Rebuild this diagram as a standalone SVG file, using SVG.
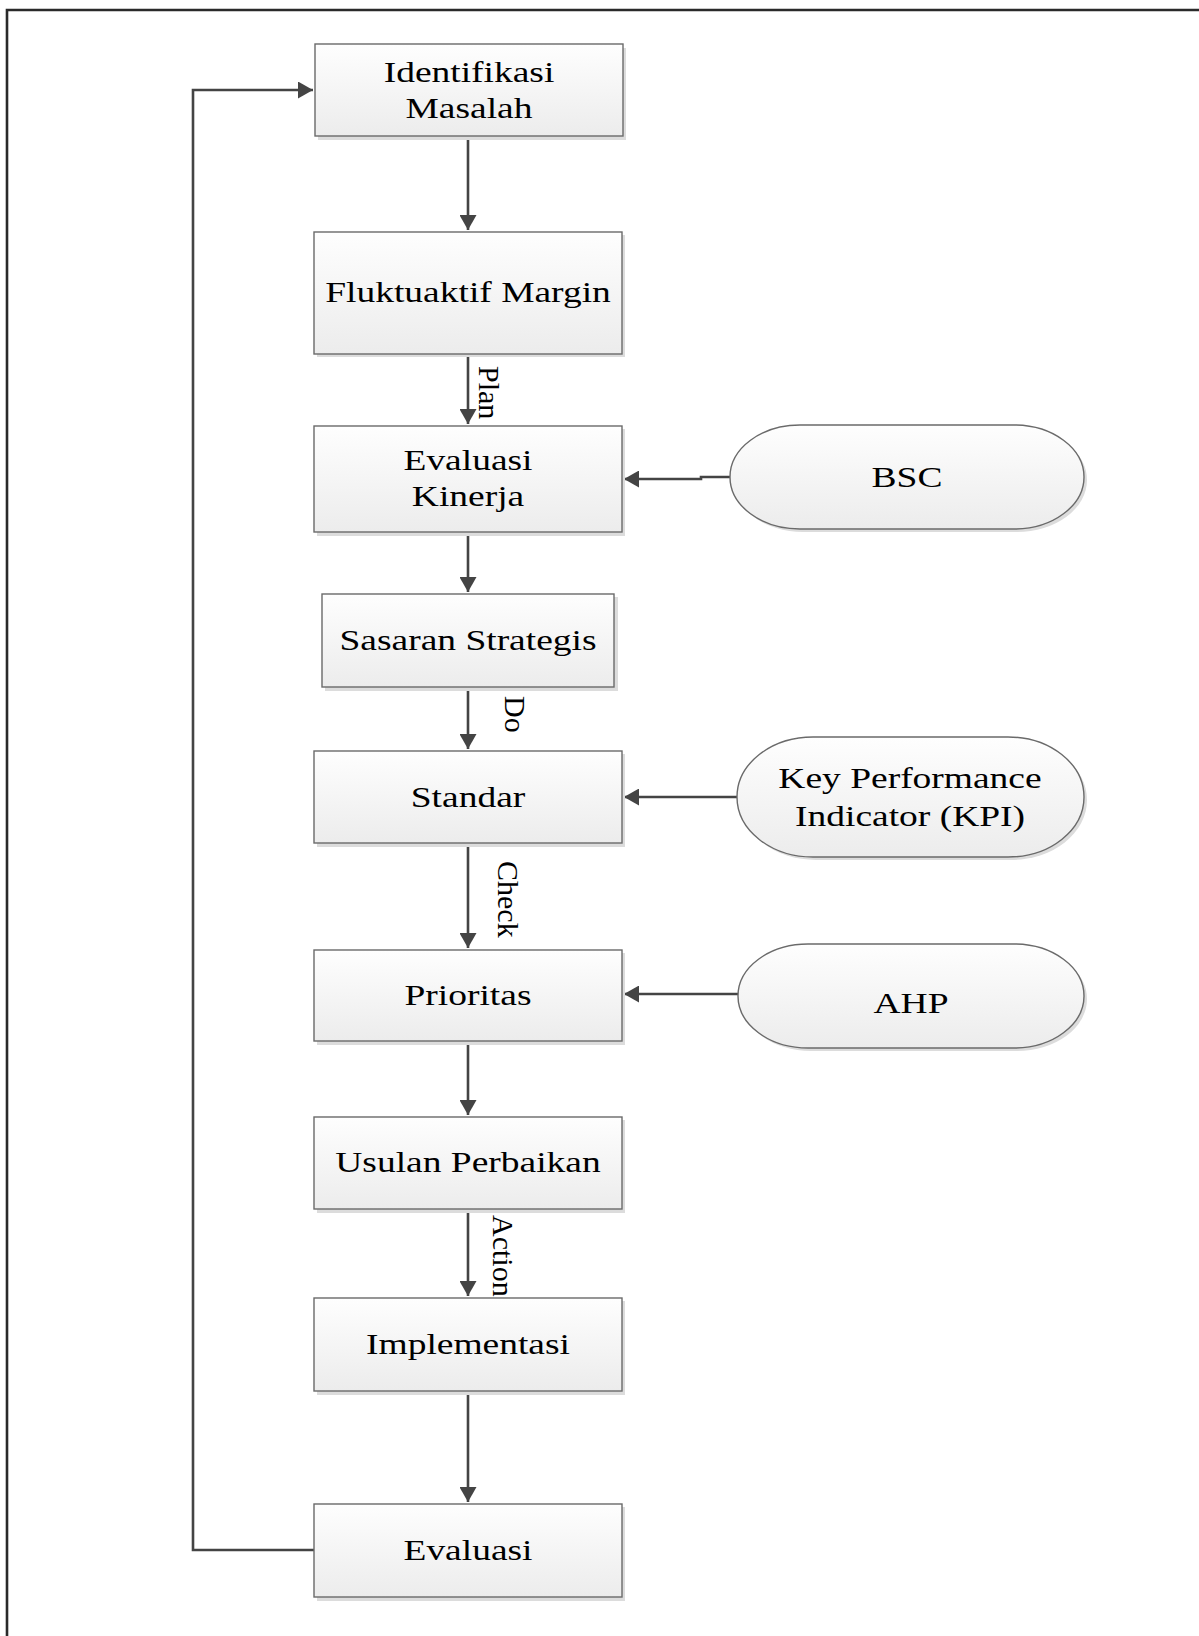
<svg xmlns="http://www.w3.org/2000/svg" width="1199" height="1636" viewBox="0 0 1199 1636">
<style>
.box{fill:url(#g);stroke:#6a6a6a;stroke-width:1.4}
.sh{fill:#dcdcdc}
.t{font-family:"Liberation Serif","Times New Roman",serif;font-size:30px;fill:#000;text-anchor:middle}
.lb{font-family:"Liberation Serif","Times New Roman",serif;font-size:30px;fill:#000}
.c{fill:none;stroke:#444;stroke-width:2.6}
</style>
<defs>
<linearGradient id="g" x1="0" y1="0" x2="0" y2="1">
<stop offset="0" stop-color="#fefefe"/>
<stop offset="1" stop-color="#ececec"/>
</linearGradient>
<marker id="a" markerUnits="userSpaceOnUse" markerWidth="17" markerHeight="17" refX="15" refY="8.5" orient="auto">
<path d="M0,0 L15,8.5 L0,17 z" fill="#444"/>
</marker>
</defs>
<rect width="1199" height="1636" fill="#fff"/>
<path d="M7,1636 V10 H1199" fill="none" stroke="#2a2a2a" stroke-width="2.6"/>

<g id="connectors">
<path class="c" d="M468,136 V230" marker-end="url(#a)"/>
<path class="c" d="M468,354 V424" marker-end="url(#a)"/>
<path class="c" d="M468,532 V592" marker-end="url(#a)"/>
<path class="c" d="M468,687 V749" marker-end="url(#a)"/>
<path class="c" d="M468,843 V948" marker-end="url(#a)"/>
<path class="c" d="M468,1041 V1115" marker-end="url(#a)"/>
<path class="c" d="M468,1209 V1296" marker-end="url(#a)"/>
<path class="c" d="M468,1391 V1502" marker-end="url(#a)"/>
<path class="c" d="M314,1550 H193 V90 H313" marker-end="url(#a)"/>
<path class="c" d="M730,477 H701 V479 H624" marker-end="url(#a)"/>
<path class="c" d="M737,797 H624" marker-end="url(#a)"/>
<path class="c" d="M738,994 H624" marker-end="url(#a)"/>
<text class="lb" transform="translate(479,366) rotate(90)">Plan</text>
<text class="lb" transform="translate(505,696) rotate(90)">Do</text>
<text class="lb" transform="translate(498,861) rotate(90)">Check</text>
<text class="lb" transform="translate(493,1215) rotate(90)">Action</text>
</g>

<g id="n1"><rect class="sh" x="318" y="48" width="308" height="92"/><rect class="box" x="315" y="44" width="308" height="92"/>
<text class="t" transform="translate(469,82) scale(1.25,1)">Identifikasi</text>
<text class="t" transform="translate(469,118) scale(1.25,1)">Masalah</text></g>

<g id="n2"><rect class="sh" x="317" y="235" width="308" height="122"/><rect class="box" x="314" y="232" width="308" height="122"/>
<text class="t" transform="translate(468,302) scale(1.25,1)">Fluktuaktif Margin</text></g>

<g id="n3"><rect class="sh" x="317" y="429" width="308" height="107"/><rect class="box" x="314" y="426" width="308" height="106"/>
<text class="t" transform="translate(468,470) scale(1.25,1)">Evaluasi</text>
<text class="t" transform="translate(468,506) scale(1.25,1)">Kinerja</text></g>

<g id="n4"><rect class="sh" x="325" y="597" width="293" height="94"/><rect class="box" x="322" y="594" width="292" height="93"/>
<text class="t" transform="translate(468,650) scale(1.25,1)">Sasaran Strategis</text></g>

<g id="n5"><rect class="sh" x="317" y="754" width="308" height="93"/><rect class="box" x="314" y="751" width="308" height="92"/>
<text class="t" transform="translate(468,806.5) scale(1.25,1)">Standar</text></g>

<g id="n6"><rect class="sh" x="317" y="953" width="308" height="92"/><rect class="box" x="314" y="950" width="308" height="91"/>
<text class="t" transform="translate(468,1005) scale(1.25,1)">Prioritas</text></g>

<g id="n7"><rect class="sh" x="317" y="1120" width="308" height="93"/><rect class="box" x="314" y="1117" width="308" height="92"/>
<text class="t" transform="translate(468,1172) scale(1.25,1)">Usulan Perbaikan</text></g>

<g id="n8"><rect class="sh" x="317" y="1301" width="308" height="94"/><rect class="box" x="314" y="1298" width="308" height="93"/>
<text class="t" transform="translate(468,1354) scale(1.25,1)">Implementasi</text></g>

<g id="n9"><rect class="sh" x="317" y="1507" width="308" height="94"/><rect class="box" x="314" y="1504" width="308" height="93"/>
<text class="t" transform="translate(468,1560) scale(1.25,1)">Evaluasi</text></g>

<g id="bsc"><rect class="sh" x="733" y="428" width="354" height="104" rx="70" ry="52"/><rect class="box" x="730" y="425" width="354" height="104" rx="70" ry="52"/>
<text class="t" transform="translate(907,487) scale(1.25,1)">BSC</text></g>

<g id="kpi"><rect class="sh" x="740" y="740" width="347" height="120" rx="76" ry="60"/><rect class="box" x="737" y="737" width="347" height="120" rx="76" ry="60"/>
<text class="t" transform="translate(910,788) scale(1.25,1)">Key Performance</text>
<text class="t" transform="translate(910,826) scale(1.25,1)">Indicator (KPI)</text></g>

<g id="ahp"><rect class="sh" x="741" y="947" width="346" height="104" rx="70" ry="52"/><rect class="box" x="738" y="944" width="346" height="104" rx="70" ry="52"/>
<text class="t" transform="translate(911,1013) scale(1.25,1)">AHP</text></g>
</svg>
